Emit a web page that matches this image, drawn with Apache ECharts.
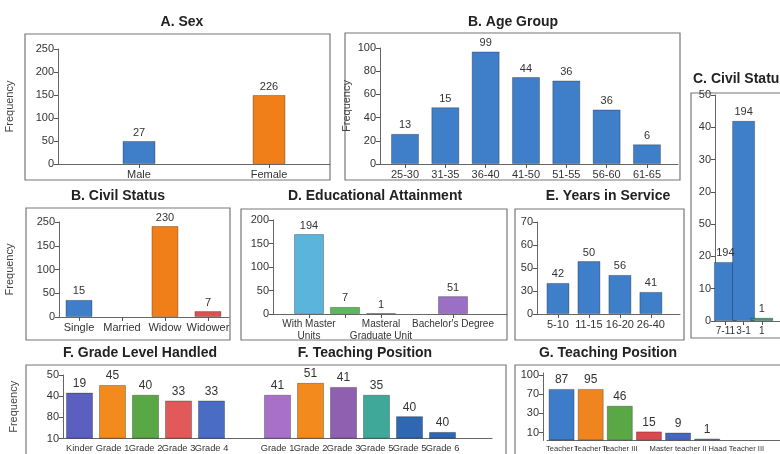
<!DOCTYPE html>
<html>
<head>
<meta charset="utf-8">
<script src="https://cdn.jsdelivr.net/npm/echarts@6/dist/echarts.min.js"></script>
<style>
  html, body { margin: 0; padding: 0; background: #fff; }
  #chart { width: 780px; height: 454px; }
</style>
</head>
<body>
<div id="chart"></div>
<script>
// A. Sex
const sexCats = ['Male', 'Female']
const sexVals = [50, 150]
const sexLabels = ['27', '226']

// B. Age Group
const ageCats = ['25-30', '31-35', '36-40', '41-50', '51-55', '56-60', '61-65']
const ageVals = [26, 49, 97, 75, 72, 47, 17]
const ageLabels = ['13', '15', '99', '44', '36', '36', '6']

// C. Civil Status (cut off at the right edge), y ticks are evenly spaced slots
const civilCCats = ['7-11', '3-1', '1']
const civilCVals = [1.83, 6.2, 0.1]
const civilCLabels = ['194', '194', '1']
const civilCTicks = ['0', '10', '20', '50', '20', '30', '40', '50']

// B. Civil Status
const civilCats = ['Single', 'Married', 'Widow', 'Widower']
const civilVals = [0.72, null, 3.83, 0.25]
const civilLabels = ['15', '', '230', '7']
const civilTicks = ['0', '50', '100', '150', '250']

// D. Educational Attainment
const eduCats = ['With Master\nUnits', '', 'Masteral\nGraduate Unit', '', "Bachelor's Degree"]
const eduVals = [170, 15, 2, null, 38]
const eduLabels = ['194', '7', '1', '', '51']

// E. Years in Service
const yearsCats = ['5-10', '11-15', '16-20', '26-40']
const yearsVals = [1.35, 2.3, 1.7, 0.96]
const yearsLabels = ['42', '50', '56', '41']
const yearsTicks = ['0', '30', '50', '60', '70']

// F. Grade Level Handled / F. Teaching Position (one shared axis)
const gradeCats = ['Kinder', 'Grade 1', 'Grade 2', 'Grade 3', 'Grade 4']
const gradeVals = [2.17, 2.53, 2.07, 1.8, 1.8]
const gradeLabels = ['19', '45', '40', '33', '33']
const posFCats = ['Grade 1', 'Grade 2', 'Grade 3', 'Grade 5', 'Grade 5', 'Grade 6']
const posFVals = [2.07, 2.63, 2.44, 2.07, 1.06, 0.32]
const posFLabels = ['41', '51', '41', '35', '40', '40']
const gradeTicks = ['10', '80', '40', '50']

// G. Teaching Position
const posGCats = ['Teacher I', 'Teacher II', 'Teacher III', '', 'Master teacher II', '', 'Haad Teacher III', '']
const posGVals = [2.69, 2.69, 1.81, 0.47, 0.41, 0.1]
const posGLabels = ['87', '95', '46', '15', '9', '1']
const posGTickVals = [0.41, 1.41, 2.41, 3.41]
const posGTicks = ['10', '30', '70', '100']

const BLUE = '#3f7ec8'
const ORANGE = '#f07f1a'

const FONT = 'Liberation Sans'
const grids = []
const xAxes = []
const yAxes = []
const series = []

const idx = (arr) => arr.map((v, i) => (v === null || v === '' ? null : i)).filter((i) => i !== null)

const addPanel = (p) => {
  const n = grids.length
  grids.push({ left: p.left, top: p.top, width: p.width, height: p.height, containLabel: false })
  const labelStyle = {
    color: '#333',
    fontSize: p.catFont || 11,
    fontFamily: FONT,
    margin: p.catMargin || 4,
    lineHeight: (p.catFont || 11) + 2,
    hideOverlap: false,
  }
  if (p.category) {
    // category axis: every label is forced on with interval 0
    xAxes.push({
      gridIndex: n,
      type: 'category',
      data: p.cats,
      boundaryGap: true,
      axisLine: { onZero: false, lineStyle: { color: '#666', width: 1 } },
      axisTick: { show: false },
      axisLabel: Object.assign({ interval: 0 }, labelStyle),
      splitLine: { show: false },
    })
  } else {
    xAxes.push({
      gridIndex: n,
      type: 'value',
      min: p.xMin,
      max: p.xMax,
      axisLine: { onZero: false, lineStyle: { color: '#666', width: 1 } },
      axisTick: { customValues: p.tickAt, length: 4, lineStyle: { color: '#555' } },
      axisLabel: Object.assign(
        { customValues: p.labelAt, formatter: (v) => p.cats[Math.round(v)] || '' },
        labelStyle
      ),
      splitLine: { show: false },
    })
  }
  const y = {
    gridIndex: n,
    type: 'value',
    min: 0,
    max: p.yMax,
    offset: p.yOffset || 0,
    axisLine: { show: true, onZero: false, lineStyle: { color: '#666', width: 1 } },
    axisTick: { show: true, length: 4, lineStyle: { color: '#555' } },
    axisLabel: { color: '#333', fontSize: 11, fontFamily: FONT, margin: 4 },
    splitLine: { show: false },
  }
  if (p.interval) y.interval = p.interval
  if (p.ticks) {
    y.axisLabel.formatter = (v) => p.ticks[Math.round(v)]
  }
  if (p.tickVals) {
    y.axisTick.customValues = p.tickVals
    y.axisLabel.customValues = p.tickVals
    y.axisLabel.formatter = (v) => p.ticks[p.tickVals.findIndex((t) => Math.abs(t - v) < 1e-6)]
  }
  if (p.yName) {
    y.name = 'Frequency'
    y.nameLocation = 'middle'
    y.nameRotate = 90
    y.nameGap = p.yName
    y.nameTextStyle = { color: '#444', fontSize: 11, fontFamily: FONT }
  }
  yAxes.push(y)
  // all groups of one panel go into one series so bars are not placed side by side
  const data = []
  p.groups.forEach((g) => {
    const off = g.offset || 0
    g.vals.forEach((v, i) => {
      if (v === null) return
      data.push({
        value: [i + off, v],
        label: { formatter: g.labels[i] },
        itemStyle: { color: g.colors[i] },
      })
    })
  })
  series.push({
    type: 'bar',
    xAxisIndex: n,
    yAxisIndex: n,
    barWidth: p.barWidth,
    data: data,
    itemStyle: { borderColor: 'rgba(0,0,0,0.28)', borderWidth: 1 },
    label: { show: true, position: 'top', distance: 3, color: '#333', fontSize: p.valFont || 11, fontFamily: FONT },
    animation: false,
  })
}

// A. Sex
addPanel({
  left: 58, top: 49, width: 272, height: 115, xMin: -0.623, xMax: 1.469,
  yMax: 250, interval: 50, yName: 43, barWidth: 33,
  cats: sexCats, tickAt: [0, 1], labelAt: [0, 1],
  groups: [{ vals: sexVals, labels: sexLabels, colors: [BLUE, ORANGE] }],
})

// B. Age Group
addPanel({
  left: 380, top: 48, width: 298, height: 116, xMin: -0.62, xMax: 6.77,
  yMax: 100, interval: 20, yName: 28, barWidth: 28,
  cats: ageCats, tickAt: idx(ageCats), labelAt: idx(ageCats),
  groups: [{ vals: ageVals, labels: ageLabels, colors: ageVals.map(() => BLUE) }],
})

// C. Civil Status (right)
addPanel({
  left: 715, top: 95, width: 100, height: 226, xMin: -0.571, xMax: 3.0,
  yMax: 7, interval: 1, ticks: civilCTicks, barWidth: 23, catFont: 10,
  cats: civilCCats, tickAt: [0, 1, 2], labelAt: [0, 1, 2],
  groups: [{ vals: civilCVals, labels: civilCLabels, colors: [BLUE, BLUE, '#3a9a7a'] }],
})

// B. Civil Status
addPanel({
  left: 59, top: 222, width: 170, height: 95, xMin: -0.465, xMax: 3.49,
  yMax: 4, interval: 1, ticks: civilTicks, yName: 44, barWidth: 27,
  cats: civilCats, tickAt: [0, 1, 2, 3], labelAt: [0, 1, 2, 3],
  groups: [{ vals: civilVals, labels: civilLabels, colors: [BLUE, BLUE, ORANGE, '#d9534f'] }],
})

// D. Educational Attainment
addPanel({
  left: 273, top: 220, width: 234, height: 94, xMin: -1, xMax: 5.5,
  yMax: 200, interval: 50, barWidth: 30, catFont: 10,
  cats: eduCats, tickAt: idx(eduVals), labelAt: idx(eduCats),
  groups: [{ vals: eduVals, labels: eduLabels, colors: ['#5ab4dc', '#5cb85c', '#4a9a8a', null, '#9b6fc4'] }],
})

// E. Years in Service
addPanel({
  left: 537, top: 222, width: 143, height: 92, xMin: -0.677, xMax: 3.94,
  yMax: 4, interval: 1, ticks: yearsTicks, barWidth: 23,
  cats: yearsCats, tickAt: [0, 1, 2, 3], labelAt: [0, 1, 2, 3],
  groups: [{ vals: yearsVals, labels: yearsLabels, colors: yearsVals.map(() => BLUE) }],
})

// F. Grade Level Handled + F. Teaching Position
const fCats = gradeCats.concat([''], posFCats, [''])
addPanel({
  category: true,
  left: 58, top: 375, width: 434, height: 65,
  yMax: 3, interval: 1, ticks: gradeTicks, yName: 44, barWidth: 27,
  catFont: 9.3, valFont: 12,
  cats: fCats,
  groups: [
    { vals: gradeVals, labels: gradeLabels, colors: ['#5a5fc0', '#f28a1e', '#5aa845', '#e05a5a', '#4a6cc4'] },
    { vals: posFVals, labels: posFLabels, offset: 6, colors: ['#a870c8', '#f28a1e', '#9060b0', '#40a898', '#2f67b2', '#2f67b2'] },
  ],
})

// G. Teaching Position
addPanel({
  category: true,
  left: 547, top: 373, width: 250, height: 68, yOffset: 4,
  yMax: 3.52, tickVals: posGTickVals, ticks: posGTicks, barWidth: 26,
  catFont: 7.6, valFont: 12,
  cats: posGCats,
  groups: [{ vals: posGVals, labels: posGLabels, colors: ['#3d7cc9', '#f0851f', '#5aa845', '#d9494f', '#4466c0', '#3a9a9a'] }],
})

const titleText = (text, x, y, align) => ({
  text: text,
  left: x,
  top: y,
  textAlign: align || 'center',
  padding: 0,
  textStyle: { fontSize: 14, fontWeight: 'bold', color: '#222', fontFamily: FONT },
})

const titles = [
  titleText('A. Sex', 182, 15),
  titleText('B. Age Group', 513, 15),
  titleText('C. Civil Status', 693, 72, 'left'),
  titleText('B. Civil Status', 118, 189),
  titleText('D. Educational Attainment', 375, 189),
  titleText('E. Years in Service', 608, 189),
  titleText('F. Grade Level Handled', 140, 346),
  titleText('F. Teaching Position', 365, 346),
  titleText('G. Teaching Position', 608, 346),
]

const box = (x, y, w, h) => ({
  type: 'rect',
  shape: { x: x, y: y, width: w, height: h },
  style: { fill: 'none', stroke: '#777', lineWidth: 1.2 },
  silent: true,
})

const chart = echarts.init(document.getElementById('chart'), null, { renderer: 'canvas' })
chart.setOption({
  backgroundColor: '#fff',
  animation: false,
  title: titles,
  graphic: [
    box(25, 34, 305, 146),
    box(345, 33, 335, 147),
    box(691, 93, 120, 245),
    box(26, 208, 204, 132),
    box(241, 209, 266, 131),
    box(515, 209, 169, 131),
    box(26, 365, 480, 100),
    box(515, 365, 300, 100),
  ],
  grid: grids,
  xAxis: xAxes,
  yAxis: yAxes,
  series: series,
})
</script>
</body>
</html>
